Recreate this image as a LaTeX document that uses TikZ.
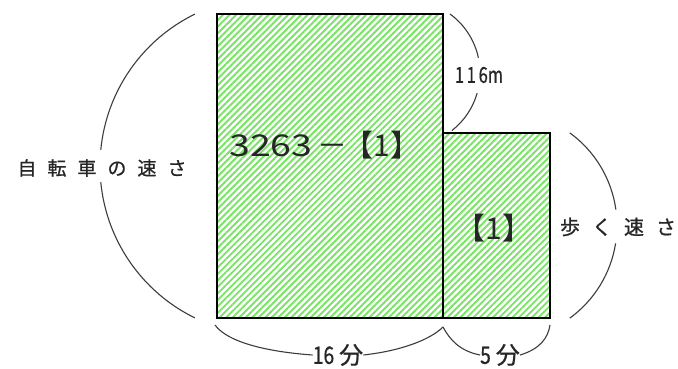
\documentclass[tikz,border=0pt]{standalone}
\usepackage{fontspec}
\setmainfont{Noto Sans CJK JP}
\newfontfamily\boldish[FakeBold=0.7]{Noto Sans CJK JP}
\usetikzlibrary{patterns.meta}
\definecolor{hatchgreen}{RGB}{120,228,100}
\definecolor{arcgray}{RGB}{60,60,60}
\tikzset{
  hatchfill/.style={pattern={Lines[angle=45,distance=4.6pt,line width=1.9pt]},pattern color=hatchgreen},
  outline/.style={draw=black,line width=1.4pt},
  brace/.style={draw=arcgray,line width=1.1pt},
  lbl/.style={inner sep=0pt,text=black!85},
}
\begin{document}
\begin{tikzpicture}[x=1pt,y=1pt]
\useasboundingbox (0,0) rectangle (678,368);
\fill[white] (0,0) rectangle (678,368);
% rectangles
\coordinate (bigSW) at (217,50);
\coordinate (bigNE) at (443,354);
\coordinate (smSW) at (443,50);
\coordinate (smNE) at (550,235);
\path[hatchfill] (bigSW) rectangle (bigNE);
\path[hatchfill] (smSW) rectangle (smNE);
\draw[outline] (bigSW) rectangle (bigNE);
\draw[outline] (smSW) rectangle (smNE);
% texts
\node[lbl,anchor=west] (big) at (229,223) {\fontsize{30}{30}\selectfont\scalebox{1.25}[1]{3263}\,－\hspace{-4pt}【1】};
\node[lbl] (small) at (494,140) {\fontsize{30}{30}\selectfont【1】};
\node[lbl] (dist) at (479,293) {\boldish\fontsize{22}{22}\selectfont\scalebox{0.75}[1]{1\,1\,6m}};
\node[lbl] (bike) at (102,200) {\boldish\fontsize{19}{19}\selectfont 自\hspace{11pt}転\hspace{11pt}車\hspace{11pt}の\hspace{11pt}速\hspace{11pt}さ};
\node[lbl] (walk) at (618,141) {\boldish\fontsize{20}{20}\selectfont 歩\hspace{12pt}く\hspace{12pt}速\hspace{12pt}さ};
\node[lbl] (t16) at (338,13) {\boldish\fontsize{24}{24}\selectfont\scalebox{0.8}[1]{16}\hspace{5pt}分};
\node[lbl] (t5) at (500,13) {\boldish\fontsize{24}{24}\selectfont\scalebox{0.8}[1]{5}\hspace{5pt}分};
% left arc (bicycle speed)
\draw[brace] (269,202) ++(116:169) arc[start angle=116,end angle=174.5,radius=169];
\draw[brace] (269,202) ++(185.5:169) arc[start angle=185.5,end angle=244,radius=169];
% 116m arc
\draw[brace] (407,295) ++(54:73) arc[start angle=54,end angle=12,radius=73];
\draw[brace] (407,295) ++(-16:73) arc[start angle=-16,end angle=-52,radius=73];
% walking speed arc
\draw[brace] (502.5,142.5) ++(54:114.5) arc[start angle=54,end angle=8,radius=114.5];
\draw[brace] (502.5,142.5) ++(-9:114.5) arc[start angle=-9,end angle=-54,radius=114.5];
% bottom braces
\draw[brace] (215,43) .. controls (228,25) and (270,16) .. (t16.west);
\draw[brace] (t16.east) .. controls (400,17) and (430,28) .. (443,41);
\draw[brace] (443,41) .. controls (450,28) and (460,17) .. (t5.west);
\draw[brace] (t5.east) .. controls (540,19) and (548,30) .. (550,43);
\end{tikzpicture}
\end{document}
